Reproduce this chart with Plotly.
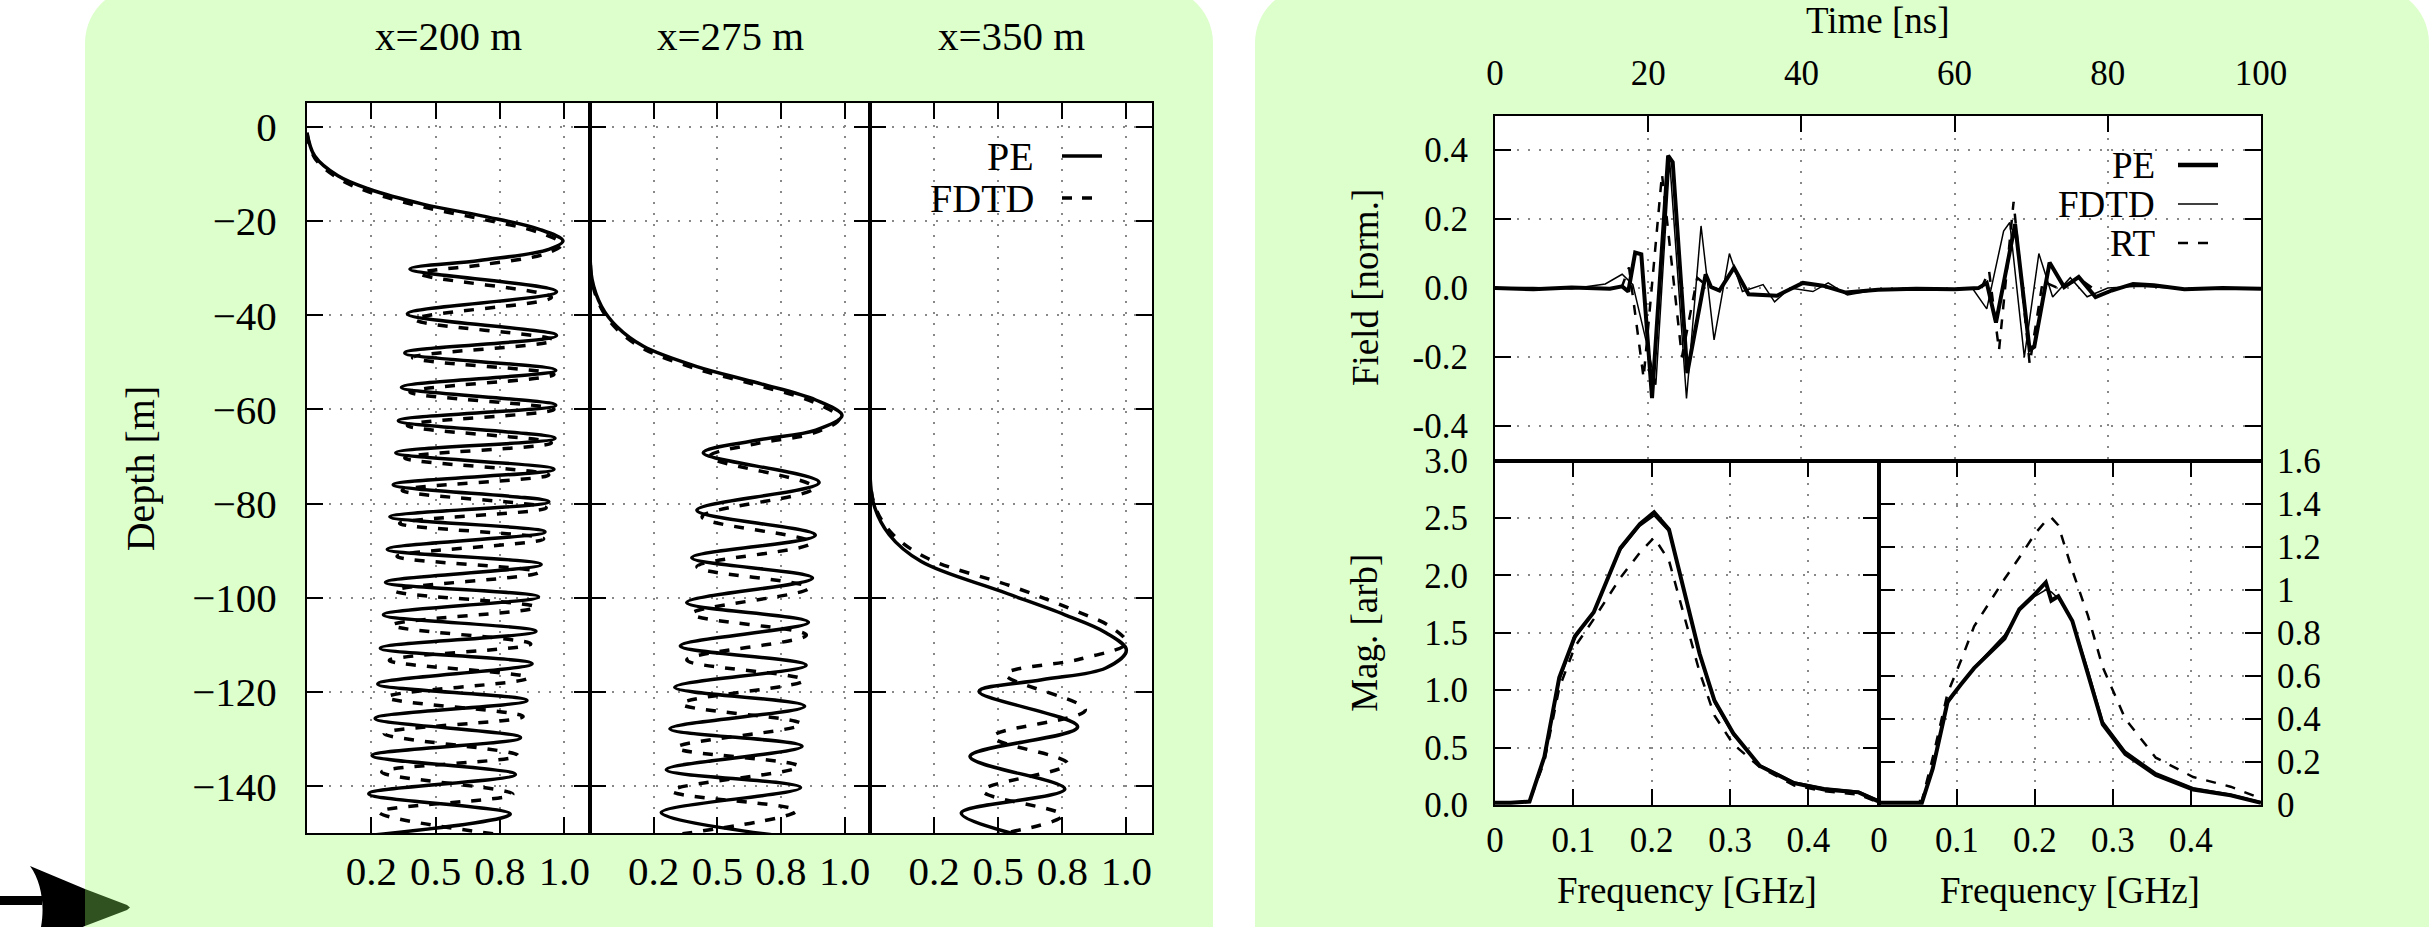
import plotly.graph_objects as go

# ---------------- data: left panels (normalised amplitude vs depth) ----------------
panel_titles = ["x=200 m", "x=275 m", "x=350 m"]
depth_ticks = [0, -20, -40, -60, -80, -100, -120, -140]
amp_tickvals = [0.25, 0.5, 0.75, 1.0]
amp_ticktext = ["0.2", "0.5", "0.8", "1.0"]

pe200_depth = [-1.2, -6.2, -10.4, -13.2, -16.4, -18.9, -21.7, -24.2, -26.0, -28.4, -30.2, -35.0, -39.7, -44.3,
               -48.0, -51.7, -55.3, -59.1, -62.4, -66.1, -69.2, -72.7, -76.0, -79.6, -82.8, -86.0, -89.7, -92.9,
               -96.7, -99.8, -103.6, -107.1, -110.7, -114.0, -118.3, -121.8, -125.6, -129.7, -133.5, -137.5,
               -141.6, -145.9, -150.5]
pe200_amp = [0.0, 0.03, 0.12, 0.24, 0.45, 0.68, 0.9, 0.995, 0.94, 0.67, 0.40, 0.97, 0.39, 0.97, 0.38, 0.967,
             0.367, 0.967, 0.355, 0.964, 0.345, 0.96, 0.335, 0.94, 0.322, 0.925, 0.312, 0.91, 0.305, 0.90, 0.297,
             0.89, 0.285, 0.875, 0.275, 0.855, 0.265, 0.83, 0.253, 0.81, 0.24, 0.79, 0.23]
fdtd200_depth = [-1.5, -6.6, -10.9, -13.8, -17.0, -19.6, -22.4, -24.9, -26.9, -29.3, -31.2, -36.2, -40.9, -45.3,
                 -49.0, -52.6, -56.3, -60.0, -63.4, -67.1, -70.3, -73.9, -77.2, -80.9, -84.2, -87.5, -91.2, -94.6,
                 -98.5, -102.0, -105.8, -109.8, -113.3, -117.0, -121.1, -125.2, -128.8, -133.5, -137.0, -141.7,
                 -145.5, -150.5]
fdtd200_amp = [0.0, 0.03, 0.12, 0.24, 0.45, 0.68, 0.9, 0.99, 0.93, 0.68, 0.44, 0.95, 0.42, 0.96, 0.41, 0.96,
               0.40, 0.96, 0.39, 0.95, 0.38, 0.94, 0.37, 0.93, 0.36, 0.92, 0.35, 0.90, 0.34, 0.89, 0.33, 0.87,
               0.32, 0.86, 0.31, 0.84, 0.30, 0.82, 0.29, 0.80, 0.28, 0.78]

pe275_depth = [-24.6, -32.4, -38.1, -42.4, -46.6, -50.9, -54.4, -58.0, -61.3, -64.4, -66.5, -69.2, -75.5, -81.4,
               -86.7, -91.5, -95.8, -101.0, -105.2, -110.2, -114.3, -119.0, -123.0, -127.8, -131.5, -136.5,
               -140.3, -145.6, -151.0]
pe275_amp = [0.0, 0.008, 0.045, 0.105, 0.21, 0.42, 0.66, 0.887, 0.99, 0.887, 0.66, 0.445, 0.90, 0.42, 0.885,
             0.40, 0.874, 0.38, 0.858, 0.355, 0.849, 0.333, 0.843, 0.314, 0.833, 0.30, 0.827, 0.28, 0.81]
fdtd275_depth = [-24.8, -32.8, -38.6, -42.9, -47.1, -51.4, -54.9, -58.5, -61.9, -65.0, -67.2, -70.0, -76.6,
                 -82.8, -88.3, -93.4, -97.9, -103.4, -107.9, -113.2, -117.5, -122.5, -126.8, -131.8, -135.8,
                 -141.0, -145.2, -150.5]
fdtd275_amp = [0.0, 0.008, 0.045, 0.105, 0.21, 0.42, 0.66, 0.88, 0.98, 0.88, 0.66, 0.47, 0.88, 0.44, 0.87,
               0.42, 0.86, 0.40, 0.85, 0.38, 0.84, 0.36, 0.83, 0.34, 0.82, 0.32, 0.81, 0.31]

pe350_depth = [-68.4, -79.7, -86.6, -92.3, -98.6, -103.6, -107.4, -111.1, -114.9, -117.4, -119.9, -127.4,
               -133.7, -140.6, -145.7, -152.5]
pe350_amp = [0.0, 0.0125, 0.075, 0.2, 0.51, 0.76, 0.92, 1.0, 0.92, 0.67, 0.425, 0.81, 0.39, 0.76, 0.356, 0.74]
fdtd350_depth = [-68.4, -79.5, -86.0, -91.5, -97.5, -102.5, -106.2, -109.6, -113.0, -116.3, -123.8, -129.5,
                 -135.2, -141.0, -146.2, -151.0]
fdtd350_amp = [0.0, 0.013, 0.08, 0.22, 0.55, 0.79, 0.94, 1.0, 0.82, 0.53, 0.84, 0.48, 0.77, 0.44, 0.75, 0.42]

# ---------------- data: right top (time traces) ----------------
time_ticks = [0, 20, 40, 60, 80, 100]
field_tickvals = [0.4, 0.2, 0.0, -0.2, -0.4]
field_ticktext = ["0.4", "0.2", "0.0", "-0.2", "-0.4"]

pe_t = [0, 5, 10, 15, 16.6, 17.4, 18.3, 19.1, 20.5, 22.6, 23.2, 25.1, 27.5, 28.2, 29.3, 31.2, 33.1, 36.8, 40.2,
        42.8, 45.8, 50, 55, 60, 63.1, 64.2, 65.4, 67.9, 69.8, 70.4, 72.4, 74.3, 76.2, 78.4, 80.5, 83.3, 86, 90,
        95, 100]
pe_field = [0, -0.003, 0.002, -0.002, 0.005, -0.01, 0.103, 0.098, -0.319, 0.384, 0.365, -0.246, 0.04, 0.003,
            -0.007, 0.059, -0.018, -0.022, 0.015, 0.007, -0.013, -0.005, -0.002, -0.003, 0.0, 0.015, -0.10,
            0.185, -0.179, -0.17, 0.074, 0.003, 0.032, -0.026, -0.007, 0.012, 0.008, -0.003, 0.0, -0.002]
fdtd_t = [0, 5, 10, 14.4, 16.6, 18.0, 19.8, 21.0, 22.8, 25.0, 26.9, 28.6, 30.6, 32.3, 35.0, 36.5, 38.5, 41.5,
          43.5, 46, 50, 55, 60, 62.3, 64.2, 66.4, 67.2, 69.1, 71.0, 72.8, 75.1, 77.3, 80, 84, 90, 100]
fdtd_field = [0, 0.002, -0.002, 0.012, 0.04, 0.01, -0.16, -0.28, 0.37, -0.32, 0.18, -0.15, 0.10, -0.01, 0.01,
              -0.04, 0.0, -0.01, 0.015, -0.02, -0.004, 0.0, -0.002, 0.0, -0.06, 0.165, 0.19, -0.20, 0.10, -0.026,
              0.03, -0.025, 0.0, 0.005, -0.002, 0]
rt_t = [16.5, 17.5, 19.4, 21.8, 24.4, 26.4, 28.0, None, 63.5, 64.5, 65.8, 67.7, 69.8, 71.5, 73.5, 76.4, 78.0]
rt_field = [0.0, 0.06, -0.26, 0.33, -0.20, 0.03, 0.0, None, 0.0, 0.05, -0.18, 0.25, -0.22, 0.02, 0.0, 0.026, 0.0]

# ---------------- data: right bottom (spectra) ----------------
freq_ticks = [0, 0.1, 0.2, 0.3, 0.4]
freq_ticktext = ["0", "0.1", "0.2", "0.3", "0.4"]
magl_tickvals = [0, 0.5, 1.0, 1.5, 2.0, 2.5, 3.0]
magl_ticktext = ["0.0", "0.5", "1.0", "1.5", "2.0", "2.5", "3.0"]
magr_tickvals = [0, 0.2, 0.4, 0.6, 0.8, 1.0, 1.2, 1.4, 1.6]
magr_ticktext = ["0", "0.2", "0.4", "0.6", "0.8", "1", "1.2", "1.4", "1.6"]

freq_l = [0, 0.02, 0.044, 0.063, 0.082, 0.102, 0.126, 0.16, 0.185, 0.203, 0.222, 0.242, 0.261, 0.28, 0.304,
          0.338, 0.382, 0.42, 0.464, 0.49]
pe_mag_l = [0.02, 0.02, 0.03, 0.42, 1.11, 1.47, 1.68, 2.24, 2.45, 2.55, 2.40, 1.86, 1.32, 0.91, 0.625, 0.34,
            0.19, 0.135, 0.11, 0.03]
fdtd_mag_l = [0.02, 0.02, 0.03, 0.40, 1.08, 1.45, 1.68, 2.22, 2.43, 2.52, 2.38, 1.84, 1.30, 0.89, 0.61, 0.35,
              0.20, 0.15, 0.12, 0.04]
rt_mag_l = [0.02, 0.02, 0.03, 0.38, 1.02, 1.38, 1.62, 1.98, 2.20, 2.33, 2.13, 1.62, 1.16, 0.78, 0.53, 0.33,
            0.17, 0.12, 0.09, 0.02]

freq_r = [0, 0.03, 0.055, 0.069, 0.088, 0.105, 0.122, 0.161, 0.18, 0.2, 0.214, 0.221, 0.23, 0.248, 0.268,
          0.287, 0.316, 0.355, 0.403, 0.451, 0.49]
pe_mag_r = [0.01, 0.01, 0.01, 0.17, 0.48, 0.56, 0.636, 0.773, 0.91, 0.98, 1.034, 0.95, 0.97, 0.855, 0.61,
            0.375, 0.237, 0.14, 0.072, 0.045, 0.01]
fdtd_mag_r = [0.01, 0.01, 0.01, 0.16, 0.47, 0.56, 0.64, 0.79, 0.90, 0.97, 1.0, 0.99, 0.96, 0.86, 0.63, 0.39,
              0.25, 0.15, 0.08, 0.05, 0.015]
rt_mag_r = [0.01, 0.01, 0.02, 0.22, 0.52, 0.67, 0.83, 1.05, 1.15, 1.26, 1.32, 1.336, 1.30, 1.09, 0.88, 0.64,
            0.40, 0.22, 0.13, 0.085, 0.03]

# ---------------- geometry (pixels) ----------------
W, H = 2433, 927


def px(x):
    return x / W


def py(y):
    return 1 - y / H


SERIF = "Liberation Serif, Times New Roman, serif"
L_TOP, L_BOT = 103.3, 833.3
L_X = [307, 590, 870, 1152]
R_L, R_MID, R_R = 1495, 1879, 2261
R_TOP, R_SPLIT, R_BOT = 115.5, 460.7, 805
GREEN = "#ddffcc"

fig = go.Figure()

left_sets = [(pe200_amp, pe200_depth, fdtd200_amp, fdtd200_depth),
             (pe275_amp, pe275_depth, fdtd275_amp, fdtd275_depth),
             (pe350_amp, pe350_depth, fdtd350_amp, fdtd350_depth)]
for i, (pa, pd, fa, fd) in enumerate(left_sets):
    sfx = "" if i == 0 else str(i + 1)
    fig.add_trace(go.Scatter(x=fa, y=fd, mode="lines", xaxis="x" + sfx, yaxis="y" + sfx,
                             line=dict(color="black", width=3.5, dash="10px,11px", shape="spline", smoothing=1.0),
                             showlegend=False))
    fig.add_trace(go.Scatter(x=pa, y=pd, mode="lines", xaxis="x" + sfx, yaxis="y" + sfx,
                             line=dict(color="black", width=3.5, shape="spline", smoothing=1.0),
                             showlegend=False))

# top-right time traces
fig.add_trace(go.Scatter(x=rt_t, y=rt_field, mode="lines", xaxis="x4", yaxis="y4",
                         line=dict(color="black", width=2.5, dash="10px,10px"), showlegend=False))
fig.add_trace(go.Scatter(x=fdtd_t, y=fdtd_field, mode="lines", xaxis="x4", yaxis="y4",
                         line=dict(color="black", width=1.5), showlegend=False))
fig.add_trace(go.Scatter(x=pe_t, y=pe_field, mode="lines", xaxis="x4", yaxis="y4",
                         line=dict(color="black", width=4), showlegend=False))

# spectra
for (fx, pm, fm, rm, ax) in [(freq_l, pe_mag_l, fdtd_mag_l, rt_mag_l, "5"),
                             (freq_r, pe_mag_r, fdtd_mag_r, rt_mag_r, "6")]:
    fig.add_trace(go.Scatter(x=fx, y=rm, mode="lines", xaxis="x" + ax, yaxis="y" + ax,
                             line=dict(color="black", width=2.5, dash="10px,10px"), showlegend=False))
    fig.add_trace(go.Scatter(x=fx, y=fm, mode="lines", xaxis="x" + ax, yaxis="y" + ax,
                             line=dict(color="black", width=1.5), showlegend=False))
    fig.add_trace(go.Scatter(x=fx, y=pm, mode="lines", xaxis="x" + ax, yaxis="y" + ax,
                             line=dict(color="black", width=4), showlegend=False))

axis_common = dict(showline=True, linecolor="black", linewidth=2, ticks="inside", ticklen=16, tickwidth=1.5,
                   tickcolor="black", mirror="ticks", showgrid=True, gridcolor="#888888", gridwidth=1.5,
                   griddash="2px,9px", zeroline=False, fixedrange=True, automargin=False)

layout = dict(width=W, height=H, margin=dict(l=0, r=0, t=0, b=0, pad=0), paper_bgcolor="white",
              plot_bgcolor="rgba(0,0,0,0)", font=dict(family=SERIF, color="black", size=40), showlegend=False)

for i in range(3):
    sfx = "" if i == 0 else str(i + 1)
    layout["xaxis" + sfx] = dict(axis_common, domain=[px(L_X[i]), px(L_X[i + 1])], range=[0, 1.1],
                                 tickvals=amp_tickvals, ticktext=amp_ticktext, anchor="y" + sfx,
                                 tickfont=dict(size=41, family=SERIF), ticklabelstandoff=0)
    layout["yaxis" + sfx] = dict(axis_common, domain=[py(L_BOT), py(L_TOP)], range=[-150, 5],
                                 tickvals=depth_ticks, anchor="x" + sfx, showticklabels=(i == 0),
                                 tickfont=dict(size=41, family=SERIF), ticklabelstandoff=20)

rfont = dict(size=35, family=SERIF)
layout["xaxis4"] = dict(axis_common, domain=[px(R_L), px(R_R)], range=[0, 100], tickvals=time_ticks,
                        side="top", anchor="y4", mirror=True, tickfont=rfont, ticklabelstandoff=15)
layout["yaxis4"] = dict(axis_common, domain=[py(R_SPLIT), py(R_TOP)], range=[-0.5, 0.5],
                        tickvals=field_tickvals, ticktext=field_ticktext, anchor="x4", tickfont=rfont,
                        ticklabelstandoff=18)
layout["xaxis5"] = dict(axis_common, domain=[px(R_L), px(R_MID)], range=[0, 0.49], tickvals=freq_ticks,
                        ticktext=freq_ticktext, anchor="y5", tickfont=rfont, ticklabelstandoff=3)
layout["yaxis5"] = dict(axis_common, domain=[py(R_BOT), py(R_SPLIT)], range=[0, 3], tickvals=magl_tickvals,
                        ticktext=magl_ticktext, anchor="x5", tickfont=rfont, ticklabelstandoff=18)
layout["xaxis6"] = dict(axis_common, domain=[px(R_MID), px(R_R)], range=[0, 0.49], tickvals=freq_ticks,
                        ticktext=freq_ticktext, anchor="y6", tickfont=rfont, ticklabelstandoff=3)
layout["yaxis6"] = dict(axis_common, domain=[py(R_BOT), py(R_SPLIT)], range=[0, 1.6], tickvals=magr_tickvals,
                        ticktext=magr_ticktext, anchor="x6", side="right", tickfont=rfont,
                        ticklabelstandoff=7)


def rounded_box(x0, x1, top, bottom, r):
    k = 0.5523 * r
    return (f"M{px(x0)},{py(bottom)} L{px(x0)},{py(top + r)} "
            f"C{px(x0)},{py(top + r - k)} {px(x0 + r - k)},{py(top)} {px(x0 + r)},{py(top)} "
            f"L{px(x1 - r)},{py(top)} "
            f"C{px(x1 - r + k)},{py(top)} {px(x1)},{py(top + r - k)} {px(x1)},{py(top + r)} "
            f"L{px(x1)},{py(bottom)} Z")


def poly(points):
    s = f"M{px(points[0][0])},{py(points[0][1])} "
    for (x, y) in points[1:]:
        s += f"L{px(x)},{py(y)} "
    return s + "Z"


shapes = [
    dict(type="path", xref="paper", yref="paper", layer="below", line=dict(width=0), fillcolor=GREEN,
         path=rounded_box(85, 1213, -13, 960, 56)),
    dict(type="path", xref="paper", yref="paper", layer="below", line=dict(width=0), fillcolor=GREEN,
         path=rounded_box(1255, 2429, -13, 960, 56)),
    dict(type="rect", xref="paper", yref="paper", layer="below", line=dict(width=0), fillcolor="white",
         x0=px(L_X[0]), x1=px(L_X[3]), y0=py(L_BOT), y1=py(L_TOP)),
    dict(type="rect", xref="paper", yref="paper", layer="below", line=dict(width=0), fillcolor="white",
         x0=px(R_L), x1=px(R_R), y0=py(R_BOT), y1=py(R_TOP)),
]

# arrow at bottom left
shapes.append(dict(type="rect", xref="paper", yref="paper", line=dict(width=0), fillcolor="black",
                   x0=px(0), x1=px(42), y0=py(905), y1=py(896)))
head_path = (f"M{px(30)},{py(866)} L{px(85)},{py(889)} L{px(85)},{py(926)} L{px(34)},{py(948)} "
             f"C{px(46)},{py(925)} {px(46)},{py(888)} {px(30)},{py(866)} Z")
shapes.append(dict(type="path", xref="paper", yref="paper", line=dict(width=0), fillcolor="black",
                   path=head_path))
shapes.append(dict(type="path", xref="paper", yref="paper", line=dict(width=0), fillcolor="#2f5220",
                   path=poly([(85, 889), (127, 905), (130, 907.5), (127, 910), (85, 926)])))

annotations = []
centers = [(L_X[i] + L_X[i + 1]) / 2 for i in range(3)]
for c, t in zip(centers, panel_titles):
    annotations.append(dict(x=px(c), y=py(36), xref="paper", yref="paper", text=t, showarrow=False,
                            font=dict(size=41, family=SERIF), xanchor="center", yanchor="middle"))
annotations.append(dict(x=px(140), y=py((L_TOP + L_BOT) / 2), xref="paper", yref="paper", text="Depth [m]",
                        textangle=-90, showarrow=False, font=dict(size=40, family=SERIF),
                        xanchor="center", yanchor="middle"))
annotations.append(dict(x=px((R_L + R_R) / 2), y=py(20.5), xref="paper", yref="paper", text="Time [ns]",
                        showarrow=False, font=dict(size=37, family=SERIF), xanchor="center", yanchor="middle"))
annotations.append(dict(x=px(1365), y=py((R_TOP + R_SPLIT) / 2), xref="paper", yref="paper",
                        text="Field [norm.]", textangle=-90, showarrow=False, font=dict(size=37, family=SERIF),
                        xanchor="center", yanchor="middle"))
annotations.append(dict(x=px(1365), y=py((R_SPLIT + R_BOT) / 2), xref="paper", yref="paper",
                        text="Mag. [arb]", textangle=-90, showarrow=False, font=dict(size=37, family=SERIF),
                        xanchor="center", yanchor="middle"))
for c in [(R_L + R_MID) / 2, (R_MID + R_R) / 2]:
    annotations.append(dict(x=px(c), y=py(890), xref="paper", yref="paper", text="Frequency [GHz]",
                            showarrow=False, font=dict(size=37, family=SERIF), xanchor="center",
                            yanchor="middle"))

# legends (text left of line sample, gnuplot style)
for label, yy, dash in [("PE", 156, None), ("FDTD", 198, "10px,10px")]:
    annotations.append(dict(x=px(1036), y=py(yy), xref="paper", yref="paper", text=label, showarrow=False,
                            font=dict(size=40, family=SERIF), xanchor="right", yanchor="middle", height=38))
    shapes.append(dict(type="line", xref="paper", yref="paper", x0=px(1062), x1=px(1102), y0=py(yy), y1=py(yy),
                       line=dict(color="black", width=3.5, dash=dash or "solid")))
for label, yy, w, dash in [("PE", 165, 4.5, "solid"), ("FDTD", 204, 1.5, "solid"), ("RT", 243, 2.5, "10px,10px")]:
    annotations.append(dict(x=px(2157), y=py(yy), xref="paper", yref="paper", text=label, showarrow=False,
                            font=dict(size=37, family=SERIF), xanchor="right", yanchor="middle", height=36))
    shapes.append(dict(type="line", xref="paper", yref="paper", x0=px(2178), x1=px(2218), y0=py(yy), y1=py(yy),
                       line=dict(color="black", width=w, dash=dash)))

layout["shapes"] = shapes
layout["annotations"] = annotations
fig.update_layout(**layout)

fig.write_html("out.html", config={"displayModeBar": False, "responsive": False},
               post_script="document.body.style.margin='0px';document.body.style.overflow='hidden';")
